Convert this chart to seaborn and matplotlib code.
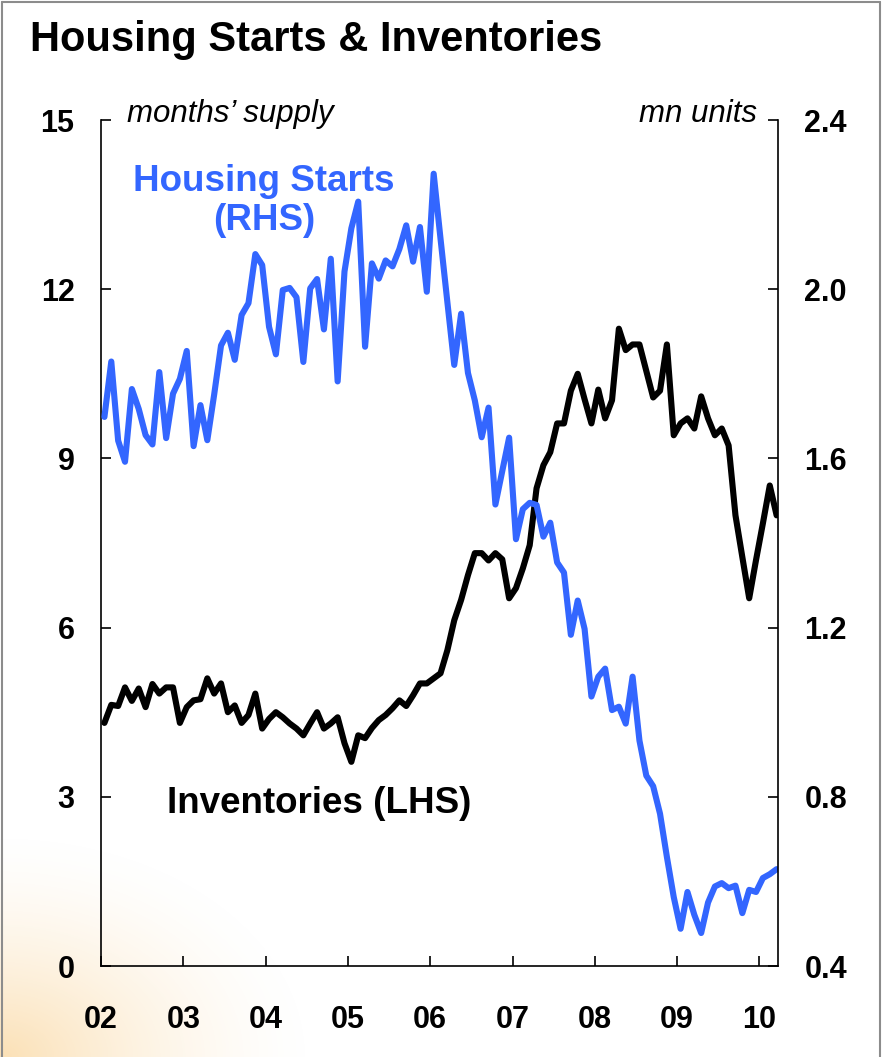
import numpy as np
import pandas as pd
import matplotlib
matplotlib.use("Agg")
import matplotlib.pyplot as plt
from matplotlib.lines import Line2D
import seaborn as sns

# Housing starts (mn units, RHS) and new-home inventories (months' supply, LHS)
# monthly, Jan 2002 - Mar 2010
starts = [
    1.698, 1.829, 1.642, 1.592, 1.764, 1.717, 1.655, 1.633, 1.804, 1.648, 1.753, 1.788,
    1.854, 1.629, 1.726, 1.643, 1.751, 1.867, 1.897, 1.833, 1.939, 1.967, 2.083, 2.057,
    1.911, 1.846, 1.998, 2.003, 1.981, 1.828, 2.002, 2.024, 1.905, 2.072, 1.782, 2.042,
    2.144, 2.207, 1.864, 2.061, 2.025, 2.068, 2.054, 2.095, 2.151, 2.065, 2.147, 1.994,
    2.273, 2.119, 1.969, 1.821, 1.942, 1.802, 1.737, 1.650, 1.720, 1.491, 1.570, 1.649,
    1.409, 1.480, 1.495, 1.490, 1.415, 1.448, 1.354, 1.330, 1.183, 1.264, 1.197, 1.037,
    1.084, 1.103, 1.005, 1.013, 0.973, 1.084, 0.933, 0.850, 0.825, 0.760, 0.658, 0.563,
    0.488, 0.575, 0.521, 0.478, 0.550, 0.588, 0.596, 0.584, 0.590, 0.525, 0.580, 0.575,
    0.608, 0.617, 0.629,
]
inventories = [
    4.31, 4.63, 4.61, 4.94, 4.70, 4.92, 4.59, 5.00, 4.83, 4.94, 4.94, 4.31,
    4.59, 4.71, 4.73, 5.10, 4.83, 5.01, 4.50, 4.62, 4.31, 4.45, 4.83, 4.21,
    4.38, 4.50, 4.41, 4.30, 4.21, 4.09, 4.30, 4.50, 4.21, 4.30, 4.41, 3.95,
    3.62, 4.09, 4.04, 4.22, 4.36, 4.45, 4.57, 4.71, 4.61, 4.80, 5.01, 5.01,
    5.10, 5.19, 5.60, 6.13, 6.49, 6.93, 7.32, 7.32, 7.19, 7.32, 7.21, 6.52,
    6.70, 7.05, 7.46, 8.47, 8.88, 9.11, 9.62, 9.62, 10.20, 10.50, 10.05, 9.62,
    10.22, 9.71, 10.03, 11.30, 10.92, 11.02, 11.02, 10.55, 10.08, 10.20, 11.02, 9.41,
    9.62, 9.71, 9.53, 10.10, 9.71, 9.41, 9.53, 9.23, 7.99, 7.25, 6.52, 7.20,
    7.85, 8.52, 7.99,
]
months = pd.date_range("2002-01-01", periods=len(starts), freq="MS")
year_labels = ["02", "03", "04", "05", "06", "07", "08", "09", "10"]
left_ticks = [0, 3, 6, 9, 12, 15]
right_ticks = [0.4, 0.8, 1.2, 1.6, 2.0, 2.4]

# mid-month position in decimal years
t = months.year + (months.month - 0.5) / 12
df = pd.DataFrame({"t": t, "starts": starts, "inventories": inventories})

sns.set_theme(style="white")
plt.rcParams["font.family"] = ["Liberation Sans", "DejaVu Sans"]
plt.rcParams["text.color"] = "black"

BLUE = "#3366ff"
W, H = 883, 1057
fig = plt.figure(figsize=(W / 100, H / 100), dpi=100)
fig.patch.set_facecolor("white")

# soft orange glow in the bottom-left corner
bg = fig.add_axes([0, 0, 1, 1], zorder=-5)
yy, xx = np.mgrid[0:H, 0:W]
r = np.sqrt((xx / 320.0) ** 2 + ((H - yy) / 230.0) ** 2)
alpha = np.clip(1 - r, 0, 1) ** 1.6 * 0.5
img = np.zeros((H, W, 4))
img[..., 0] = 0.97
img[..., 1] = 0.76
img[..., 2] = 0.42
img[..., 3] = alpha
bg.imshow(img, aspect="auto", extent=[0, 1, 0, 1])
bg.axis("off")

ax = fig.add_axes([101 / W, 91 / H, 677 / W, 846 / H])
ax.set_facecolor("none")
ax2 = ax.twinx()

sns.lineplot(data=df, x="t", y="inventories", ax=ax, color="black", linewidth=4.4)
sns.lineplot(data=df, x="t", y="starts", ax=ax2, color=BLUE, linewidth=4.4)

ax.set_xlim(2002, 2010.225)
ax.set_ylim(0, 15)
ax2.set_ylim(0.4, 2.4)

ax.set_xticks(np.arange(2002, 2011))
ax.set_xticklabels(year_labels)
ax.set_yticks(left_ticks)
ax.set_yticklabels([str(v) for v in left_ticks])
ax2.set_yticks(right_ticks)
ax2.set_yticklabels([f"{v:.1f}" for v in right_ticks])

for a in (ax, ax2):
    a.set_xlabel("")
    a.set_ylabel("")
    a.spines["top"].set_visible(False)
    for s in a.spines.values():
        s.set_linewidth(1.2)
        s.set_color("black")
ax.spines["right"].set_visible(False)
ax2.spines["left"].set_visible(False)
ax2.spines["bottom"].set_visible(False)

tick_font = dict(labelsize=22, width=1.2, length=7, direction="in",
                 colors="black", labelcolor="black")
ax.tick_params(axis="y", left=True, pad=19, **tick_font)
ax.tick_params(axis="x", bottom=True, pad=28, **tick_font)
ax2.tick_params(axis="y", right=True, pad=19, **tick_font)
for lab in ax.get_xticklabels() + ax.get_yticklabels() + ax2.get_yticklabels():
    lab.set_fontweight("bold")

# titles and annotations
fig.text(30 / W, 1 - 40 / H, "Housing Starts & Inventories", fontsize=30,
         fontweight="bold", va="center", ha="left", color="black")
fig.text(127 / W, 1 - 114 / H, "months\u2019 supply", fontsize=22.5,
         style="italic", va="center", ha="left", color="black")
fig.text(757 / W, 1 - 114 / H, "mn units", fontsize=22.5,
         style="italic", va="center", ha="right", color="black")
ax.text(2003.98, 13.57, "Housing Starts\n(RHS)", color=BLUE, fontsize=26.5,
        fontweight="bold", ha="center", va="center", linespacing=1.15)
ax.text(2004.65, 2.89, "Inventories (LHS)", color="black", fontsize=26.5,
        fontweight="bold", ha="center", va="center")

# thin grey frame around the slide
for xs, ys in [((2 / W, 2 / W), (0, 1 - 2 / H)),
               ((2 / W, 1 - 3 / W), (1 - 2 / H, 1 - 2 / H)),
               ((1 - 3 / W, 1 - 3 / W), (0, 1 - 2 / H))]:
    fig.add_artist(Line2D(xs, ys, color="#8c8c8c", linewidth=1.5))

fig.savefig("out.png", dpi=100)
